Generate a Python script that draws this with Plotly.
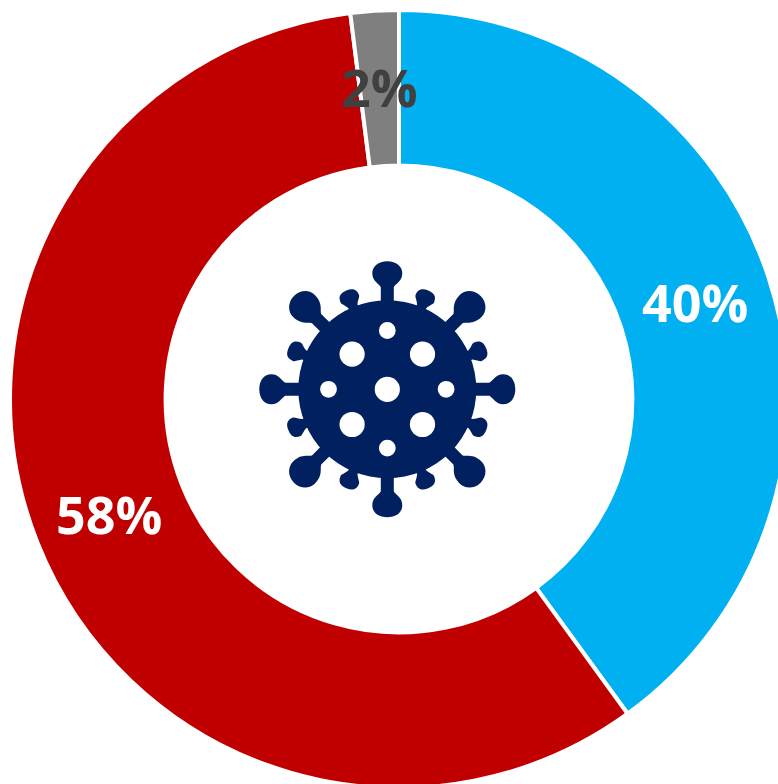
import math
import plotly.graph_objects as go

# Data
categories = ["Blue", "Red", "Grey"]
values = [40, 58, 2]
colors = ["#00B0F0", "#C00000", "#7F7F7F"]
label_colors = ["#FFFFFF", "#FFFFFF", "#404040"]
label_px = [(695, 301), (109, 513), (379, 86)]

W = H = 800
CX, CY, R = 399, 399, 389
NAVY = "#002060"
ICON_X, ICON_Y = 387.3, 389.3


def px(x):
    return x / W


def py(y):
    return 1 - y / H


def spike_path(segments, angle_deg):
    a = math.radians(angle_deg)
    ca, sa = math.cos(a), math.sin(a)
    out = []
    for cmd, pts in segments:
        coords = []
        for x, y in pts:
            xr = x * ca - y * sa + ICON_X
            yr = x * sa + y * ca + ICON_Y
            coords.append(f"{px(xr):.5f},{py(yr):.5f}")
        out.append(cmd + " ".join(coords))
    return " ".join(out) + " Z"


def blob(stem, neck, w, mid, tip, base=-85):
    return [
        ("M", [(-stem, base)]),
        ("L", [(-stem, neck)]),
        ("C", [(-stem - 2, neck - 4), (-w, neck - 6), (-w, mid)]),
        ("C", [(-w, mid - 7), (-w * 0.6, tip), (0, tip)]),
        ("C", [(w * 0.6, tip), (w, mid - 7), (w, mid)]),
        ("C", [(w, neck - 6), (stem + 2, neck - 4), (stem, neck)]),
        ("L", [(stem, base)]),
    ]


shapes = []
icon = dict(type="path", xref="paper", yref="paper", fillcolor=NAVY, line=dict(width=0), layer="above")
for k in range(8):
    if k % 2 == 0:
        seg = blob(6.5, -102, 15, -116, -128)
    else:
        seg = blob(6.5, -100, 15.5, -118, -132)
    shapes.append(dict(icon, path=spike_path(seg, k * 45)))
    shapes.append(dict(icon, path=spike_path(blob(5, -90, 10, -98, -107), 22.5 + k * 45)))


def circle(cx, cy, r, color):
    return dict(type="circle", xref="paper", yref="paper",
                x0=px(ICON_X + cx - r), x1=px(ICON_X + cx + r),
                y0=py(ICON_Y + cy + r), y1=py(ICON_Y + cy - r),
                fillcolor=color, line=dict(width=0), layer="above")


shapes.append(circle(0, 0, 89, NAVY))
for dx, dy in [(0, 0), (-35.2, -35.2), (35.2, -35.2), (-35.2, 35.2), (35.2, 35.2)]:
    shapes.append(circle(dx, dy, 12.6, "#FFFFFF"))
for dx, dy in [(0, -58.8), (0, 58.8), (-58.8, 0), (58.8, 0)]:
    shapes.append(circle(dx, dy, 8.4, "#FFFFFF"))

annotations = [
    dict(text=f"{v}%", x=px(lx), y=py(ly), xref="paper", yref="paper",
         xanchor="center", yanchor="middle", showarrow=False,
         font=dict(family="Open Sans", size=52, color=c, weight="bold"))
    for v, (lx, ly), c in zip(values, label_px, label_colors)
]

fig = go.Figure(go.Pie(
    labels=categories,
    values=values,
    sort=False,
    direction="clockwise",
    rotation=0,
    hole=0.6,
    textinfo="none",
    hoverinfo="label+percent",
    showlegend=False,
    marker=dict(colors=colors, line=dict(color="#FFFFFF", width=4)),
    domain=dict(x=[(CX - R) / W, (CX + R) / W], y=[1 - (CY + R) / H, 1 - (CY - R) / H]),
))
fig.update_layout(
    width=W, height=H,
    margin=dict(l=0, r=0, t=0, b=0),
    paper_bgcolor="#FFFFFF",
    shapes=shapes,
    annotations=annotations,
)
fig.write_html(
    "out.html",
    config={"displayModeBar": False},
    post_script="document.documentElement.style.overflow='hidden';document.body.style.margin='0';document.body.style.overflow='hidden';window.dispatchEvent(new Event('resize'));",
)
